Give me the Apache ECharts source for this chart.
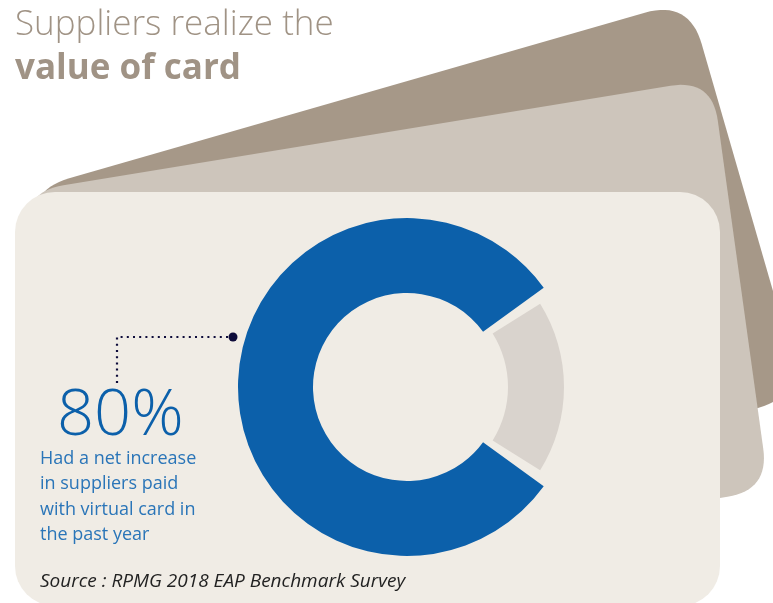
<!DOCTYPE html>
<html>
<head>
<meta charset="utf-8">
<script src="https://cdn.jsdelivr.net/npm/echarts@6/dist/echarts.min.js"></script>
<style>
html,body{margin:0;padding:0;background:#ffffff;}
#chart{width:773px;height:603px;}
</style>
</head>
<body>
<div id="chart"></div>
<script>
// ---- data ----
const categories = ['Net increase in suppliers paid with virtual card', 'Other'];
const values = [80, 20];
const titleLines = ['Suppliers realize the', 'value of card'];
const bigLabel = '80%';
const descLines = ['Had a net increase', 'in suppliers paid', 'with virtual card in', 'the past year'];
const sourceText = 'Source : RPMG 2018 EAP Benchmark Survey';

// ---- helpers: rounded quadrilateral as sampled polygon ----
function roundedPoly(pts, r) {
  const n = pts.length;
  const out = [];
  for (let i = 0; i < n; i++) {
    const p0 = pts[(i - 1 + n) % n], p1 = pts[i], p2 = pts[(i + 1) % n];
    const l1 = Math.hypot(p0[0] - p1[0], p0[1] - p1[1]);
    const l2 = Math.hypot(p2[0] - p1[0], p2[1] - p1[1]);
    const a = [p1[0] + (p0[0] - p1[0]) * r / l1, p1[1] + (p0[1] - p1[1]) * r / l1];
    const b = [p1[0] + (p2[0] - p1[0]) * r / l2, p1[1] + (p2[1] - p1[1]) * r / l2];
    const steps = 16;
    for (let k = 0; k <= steps; k++) {
      const t = k / steps, u = 1 - t;
      out.push([u * u * a[0] + 2 * u * t * p1[0] + t * t * b[0],
                u * u * a[1] + 2 * u * t * p1[1] + t * t * b[1]]);
    }
  }
  return out;
}

const total = values.reduce((s, v) => s + v, 0);
const otherAngle = values[1] / total * 360;
const blue = '#0c60aa';
const grey = '#d9d3cd';
const bg = '#f0ece5';
const center = [407, 387];

const chart = echarts.init(document.getElementById('chart'), null, {renderer: 'canvas'});

const option = {
  backgroundColor: '#ffffff',
  animation: false,
  graphic: [
    // back card
    {type: 'polygon', z: -30, silent: true,
     shape: {points: roundedPoly([[25, 191], [689, 0], [803, 395], [139, 586]], 46)},
     style: {fill: '#a69888'}},
    // middle card
    {type: 'polygon', z: -20, silent: true,
     shape: {points: roundedPoly([[22, 192], [712, 79], [769, 490], [79, 603]], 42)},
     style: {fill: '#cdc5bb'}},
    // front card
    {type: 'rect', z: -10, silent: true,
     shape: {x: 15, y: 192, width: 705, height: 414, r: 40},
     style: {fill: bg}},
    // title
    {type: 'text', z: 5, silent: true,
     style: {text: titleLines[0], x: 15, y: 25.5, fill: '#a09385',
             font: '300 35px "Open Sans"', textVerticalAlign: 'middle'}},
    {type: 'text', z: 5, silent: true,
     style: {text: titleLines[1], x: 15, y: 69.5, fill: '#a09385',
             font: 'bold 35px "Open Sans"', textVerticalAlign: 'middle'}},
    // leader
    {type: 'polyline', z: 5, silent: true,
     shape: {points: [[228, 337], [117, 337], [117, 383]]},
     style: {stroke: '#0d0b3a', lineWidth: 2.2, lineDash: [2, 4.2], fill: null}},
    {type: 'circle', z: 5, silent: true,
     shape: {cx: 233, cy: 337, r: 4.5},
     style: {fill: '#0d0b3a'}},
    // big number
    {type: 'text', z: 5, silent: true,
     style: {text: bigLabel, x: 57, y: 416.5, fill: blue,
             font: '300 65px "Open Sans"', textVerticalAlign: 'middle'}},
    // description
    {type: 'text', z: 5, silent: true,
     style: {text: descLines.join('\n'), x: 40, y: 446, fill: '#2a75b8',
             font: '18px "Open Sans"', lineHeight: 25.5, textVerticalAlign: 'top'}},
    // source
    {type: 'text', z: 5, silent: true,
     style: {text: sourceText, x: 40, y: 582, fill: '#222222',
             font: 'italic 19px "Open Sans"', textVerticalAlign: 'middle'}}
  ],
  series: [
    {
      type: 'pie', silent: true, center: center, radius: [94, 169],
      startAngle: -otherAngle / 2, clockwise: true,
      label: {show: false}, labelLine: {show: false},
      data: [
        {name: categories[0], value: values[0], itemStyle: {color: blue}},
        {name: categories[1], value: values[1], itemStyle: {color: 'rgba(0,0,0,0)'}}
      ]
    },
    {
      type: 'pie', silent: true, center: center, radius: [101, 157],
      startAngle: otherAngle / 2, clockwise: true, padAngle: 8,
      label: {show: false}, labelLine: {show: false},
      data: [
        {name: categories[1], value: values[1], itemStyle: {color: grey}},
        {name: categories[0], value: values[0], itemStyle: {color: 'rgba(0,0,0,0)'}}
      ]
    }
  ]
};
chart.setOption(option);
</script>
</body>
</html>
